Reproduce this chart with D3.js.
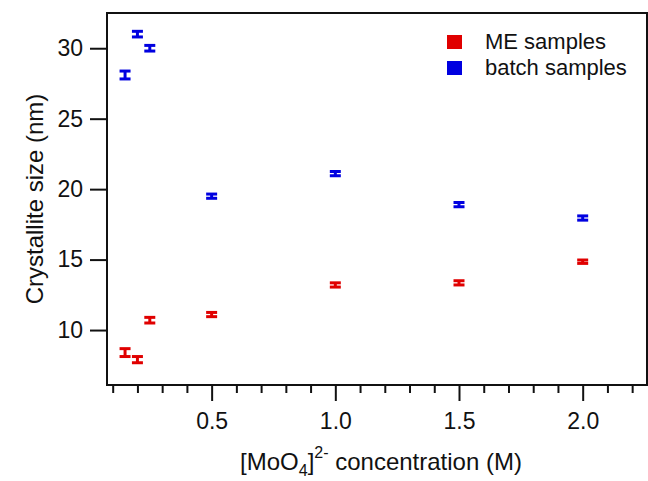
<!DOCTYPE html>
<html lang="en">
<head>
  <meta charset="UTF-8">
  <script src="https://d3js.org/d3.v7.min.js"></script>
  <title>Crystallite size</title>
  <style>
    body { margin: 0; background: #fff; }
    text { font-family: "Liberation Sans", Arial, sans-serif; fill: #111; }
    .axis path, .axis line { stroke: #111; stroke-width: 2px; }
  </style>
</head>
<body>
  <svg width="648" height="481"></svg>

  <script>
    const width = 648, height = 481;
    const margin = { top: 13, right: 1, bottom: 96, left: 107 };

    // concentrations (M)
    const conc = [0.15, 0.2, 0.25, 0.5, 1.0, 1.5, 2.0];
    // crystallite size (nm)
    const meSize = [8.4, 7.9, 10.7, 11.1, 13.2, 13.35, 14.85];
    const meErr = [0.28, 0.22, 0.2, 0.15, 0.15, 0.15, 0.12];
    const batchSize = [28.1, 31.0, 30.0, 19.5, 21.1, 18.9, 17.95];
    const batchErr = [0.28, 0.2, 0.2, 0.15, 0.15, 0.15, 0.15];

    const xTicks = [0.5, 1.0, 1.5, 2.0];
    const yTicks = [10, 15, 20, 25, 30];

    const series = [
      { name: "ME samples", color: "#e00000", y: meSize, err: meErr },
      { name: "batch samples", color: "#0000e0", y: batchSize, err: batchErr }
    ];

    const svg = d3.select("svg");

    const x = d3.scaleLinear()
      .domain([0.077, 2.26])
      .range([margin.left, width - margin.right]);
    const y = d3.scaleLinear()
      .domain([6.1, 32.5])
      .range([height - margin.bottom, margin.top]);

    // frame
    svg.append("rect")
      .attr("x", margin.left)
      .attr("y", margin.top)
      .attr("width", width - margin.left - margin.right)
      .attr("height", height - margin.top - margin.bottom)
      .attr("fill", "none")
      .attr("stroke", "#111")
      .attr("stroke-width", 2);

    // x axis: minor ticks every 0.1, majors labelled
    const minor = d3.range(1, 23).map(i => i / 10).filter(v => !xTicks.some(t => Math.abs(t - v) < 1e-9));
    svg.append("g")
      .attr("class", "axis")
      .attr("transform", `translate(0,${height - margin.bottom})`)
      .call(d3.axisBottom(x).tickValues(minor).tickSize(8).tickFormat(""))
      .call(g => g.select(".domain").remove());
    const gx = svg.append("g")
      .attr("class", "axis")
      .attr("transform", `translate(0,${height - margin.bottom})`)
      .call(d3.axisBottom(x).tickValues(xTicks).tickSize(16).tickPadding(12).tickFormat(d3.format(".1f")))
      .call(g => g.select(".domain").remove());
    gx.selectAll("text").style("font-size", "23px");

    // y axis
    const gy = svg.append("g")
      .attr("class", "axis")
      .attr("transform", `translate(${margin.left},0)`)
      .call(d3.axisLeft(y).tickValues(yTicks).tickSize(17).tickPadding(7))
      .call(g => g.select(".domain").remove());
    gy.selectAll("text").style("font-size", "23px");

    // error bars
    series.forEach(s => {
      const g = svg.append("g").attr("stroke", s.color).attr("stroke-width", 3);
      conc.forEach((c, i) => {
        const cx = x(c), lo = y(s.y[i] - s.err[i]), hi = y(s.y[i] + s.err[i]);
        g.append("line").attr("x1", cx).attr("x2", cx).attr("y1", lo).attr("y2", hi);
        g.append("line").attr("x1", cx - 5.5).attr("x2", cx + 5.5).attr("y1", lo).attr("y2", lo);
        g.append("line").attr("x1", cx - 5.5).attr("x2", cx + 5.5).attr("y1", hi).attr("y2", hi);
      });
    });

    // legend
    const legend = svg.append("g").attr("transform", "translate(447,35)");
    series.forEach((s, i) => {
      const row = legend.append("g").attr("transform", `translate(0,${i * 26})`);
      row.append("rect").attr("width", 15).attr("height", 14).attr("fill", s.color);
      row.append("text").attr("x", 38).attr("y", 14).style("font-size", "22px").text(s.name);
    });

    // axis titles
    svg.append("text")
      .attr("transform", `translate(43,${(margin.top + height - margin.bottom) / 2}) rotate(-90)`)
      .attr("text-anchor", "middle")
      .style("font-size", "24px")
      .text("Crystallite size (nm)");

    const xt = svg.append("text")
      .attr("x", (margin.left + width - margin.right) / 2 + 4)
      .attr("y", 470)
      .attr("text-anchor", "middle")
      .style("font-size", "24px");
    xt.append("tspan").text("[MoO");
    xt.append("tspan").attr("dy", 6).style("font-size", "16px").text("4");
    xt.append("tspan").attr("dy", -6).text("]");
    xt.append("tspan").attr("dy", -12).style("font-size", "16px").text("2-");
    xt.append("tspan").attr("dy", 12).text(" concentration (M)");
  </script>
</body>
</html>
